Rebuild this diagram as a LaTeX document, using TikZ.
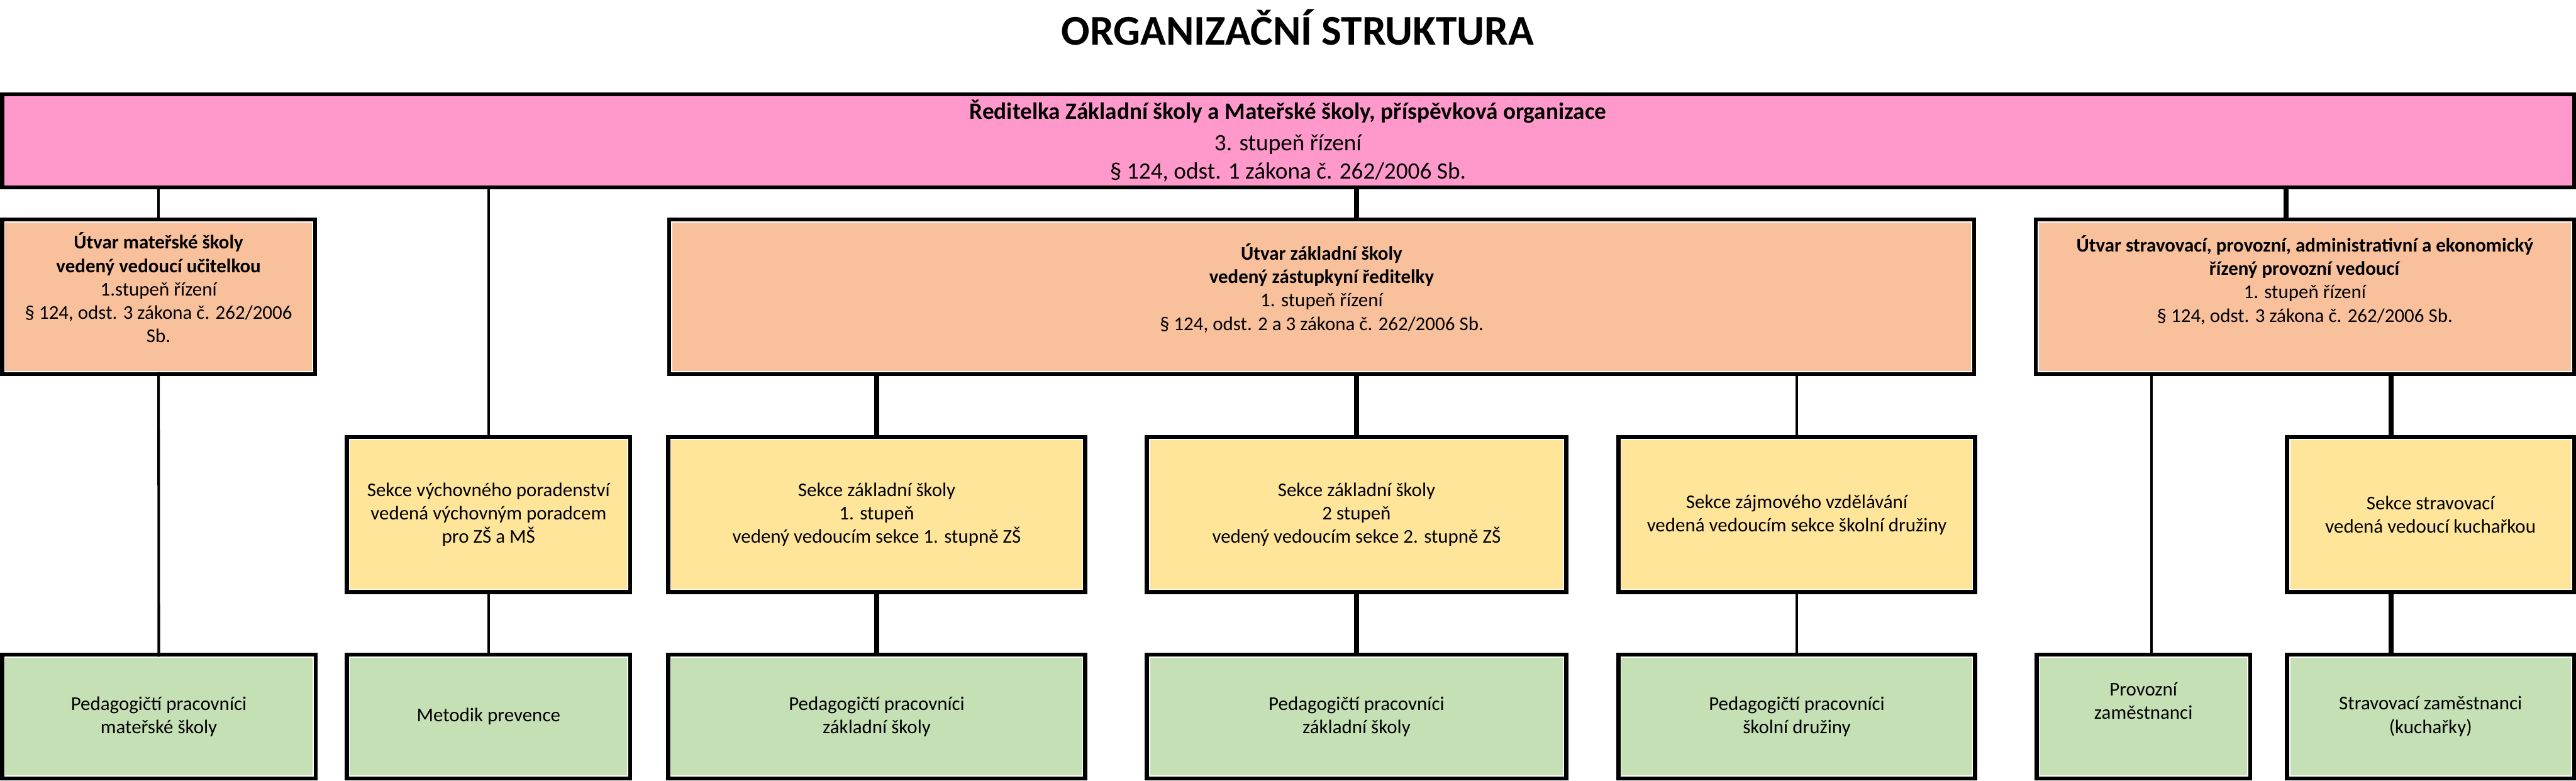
\documentclass[tikz,border=0pt]{standalone}
\usepackage{fontspec}
\setmainfont{Carlito}
\usepackage{xcolor}
\usetikzlibrary{positioning}
\definecolor{headpink}{HTML}{FF99CC}
\definecolor{unitpeach}{HTML}{F8C09B}
\definecolor{sectyellow}{HTML}{FFE599}
\definecolor{staffgreen}{HTML}{C5E0B4}
\tikzset{
  headnode/.style={draw=black, line width=0.8mm, fill=headpink, align=center, inner sep=0pt, minimum width=50.12cm, minimum height=1.81cm, font=\fontsize{13pt}{15.5pt}\selectfont},
  framedbox/.style={draw=white, line width=0.2mm, preaction={draw=black, line width=1.8mm}, align=center, inner sep=0pt},
  unitnode/.style={framedbox, fill=unitpeach, minimum height=2.91cm},
  sectnode/.style={framedbox, fill=sectyellow, minimum height=2.92cm},
  staffnode/.style={framedbox, fill=staffgreen, minimum height=2.31cm},
  thinlink/.style={black, line width=0.5mm},
  thicklink/.style={black, line width=1mm}
}

\begin{document}
\begin{tikzpicture}[every node/.style={font=\fontsize{10.8pt}{13pt}\selectfont}]
  \useasboundingbox (0,0) rectangle (50.20,-15.21);
  \node[anchor=base, font=\bfseries\fontsize{23.5pt}{28pt}\selectfont] (title) at (25.29,-0.88) {ORGANIZAČNÍ STRUKTURA};
  \node[headnode] (dir) at (25.10,-2.745) {\textbf{Ředitelka Základní školy a Mateřské školy, příspěvková organizace}\\[2pt] 3. stupeň řízení\\ § 124, odst. 1 zákona č. 262/2006 Sb.};
  % utvary
  \node[unitnode, minimum width=6.00cm] (msu) at (3.09,-5.785) {\textbf{Útvar mateřské školy}\\ \textbf{vedený vedoucí učitelkou}\\ 1.stupeň řízení\\ § 124, odst. 3 zákona č. 262/2006\\ Sb.\\[-2.8pt]\mbox{}};
  \node[unitnode, minimum width=25.33cm] (zsu) at (25.755,-5.785) {\textbf{Útvar základní školy}\\ \textbf{vedený zástupkyní ředitelky}\\ 1. stupeň řízení\\ § 124, odst. 2 a 3 zákona č. 262/2006 Sb.\\[-2pt]\mbox{}};
  \node[unitnode, minimum width=10.39cm] (provu) at (44.915,-5.785) {\textbf{Útvar stravovací, provozní, administrativní a ekonomický}\\ \textbf{řízený provozní vedoucí}\\ 1. stupeň řízení\\ § 124, odst. 3 zákona č. 262/2006 Sb.\\[2.5mm]\mbox{}};
  % sekce
  \node[sectnode, minimum width=5.42cm] (vpor) at (9.52,-10.03) {Sekce výchovného poradenství\\ vedená výchovným poradcem\\ pro ZŠ a MŠ};
  \node[sectnode, minimum width=8.03cm] (zs1) at (17.085,-10.03) {Sekce základní školy\\ 1. stupeň\\ vedený vedoucím sekce 1. stupně ZŠ};
  \node[sectnode, minimum width=8.07cm] (zs2) at (26.435,-10.03) {Sekce základní školy\\ 2 stupeň\\ vedený vedoucím sekce 2. stupně ZŠ};
  \node[sectnode, minimum width=6.85cm] (zajm) at (35.015,-10.03) {Sekce zájmového vzdělávání\\ vedená vedoucím sekce školní družiny};
  \node[sectnode, minimum width=5.49cm] (strav) at (47.365,-10.03) {Sekce stravovací\\ vedená vedoucí kuchařkou};
  % pracovnici
  \node[staffnode, minimum width=6.01cm] (pedms) at (3.095,-13.965) {Pedagogičtí pracovníci\\ mateřské školy};
  \node[staffnode, minimum width=5.42cm] (metod) at (9.52,-13.965) {Metodik prevence};
  \node[staffnode, minimum width=8.03cm] (pedzs1) at (17.085,-13.965) {Pedagogičtí pracovníci\\ základní školy};
  \node[staffnode, minimum width=8.07cm] (pedzs2) at (26.435,-13.965) {Pedagogičtí pracovníci\\ základní školy};
  \node[staffnode, minimum width=6.85cm] (pedsd) at (35.015,-13.965) {Pedagogičtí pracovníci\\ školní družiny};
  \node[staffnode, minimum width=4.06cm] (provz) at (41.77,-13.965) {Provozní\\ zaměstnanci\\[1.5mm]\mbox{}};
  \node[staffnode, minimum width=5.49cm] (kuch) at (47.365,-13.965) {Stravovací zaměstnanci\\ (kuchařky)};
  % spojnice
  \draw[thinlink] (dir.south -| msu.north) -- (msu.north);
  \draw[thinlink] (dir.south -| vpor.north) -- (vpor.north);
  \draw[thicklink] (dir.south -| zs2.north) -- (zsu.north -| zs2.north);
  \draw[thicklink] ([xshift=-3.65mm]provu.north |- dir.south) -- ([xshift=-3.65mm]provu.north);
  \draw[thinlink] (msu.south) -- (pedms.north);
  \draw[thinlink] (vpor.south) -- (metod.north);
  \draw[thicklink] (zsu.south -| zs1.north) -- (zs1.north);
  \draw[thicklink] (zsu.south -| zs2.north) -- (zs2.north);
  \draw[thinlink] (zsu.south -| zajm.north) -- (zajm.north);
  \draw[thicklink] (zs1.south) -- (pedzs1.north);
  \draw[thicklink] (zs2.south) -- (pedzs2.north);
  \draw[thinlink] (zajm.south) -- (pedsd.north);
  \draw[thinlink] ([xshift=1.6mm]provz.north |- provu.south) -- ([xshift=1.6mm]provz.north);
  \draw[thicklink] ([xshift=-7.65mm]strav.north |- provu.south) -- ([xshift=-7.65mm]strav.north);
  \draw[thicklink] ([xshift=-7.65mm]strav.south) -- ([xshift=-7.65mm]kuch.north);
\end{tikzpicture}
\end{document}
